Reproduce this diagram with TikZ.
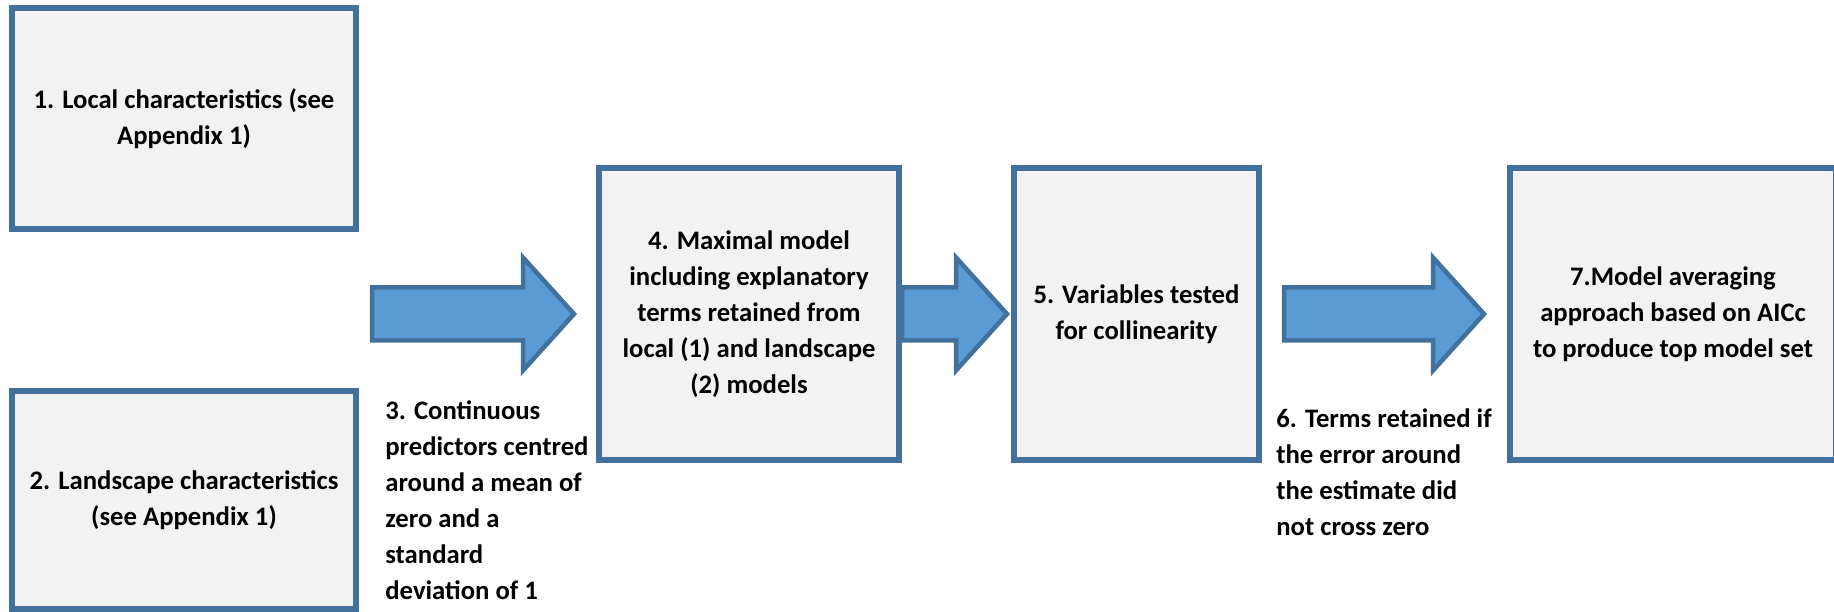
\documentclass[tikz,border=0pt]{standalone}
\usepackage{fontspec}
\setmainfont{Carlito}
\usepackage{tikz}
\usetikzlibrary{positioning,calc}
\definecolor{Edge}{HTML}{41719C}
\definecolor{Panel}{HTML}{F2F2F2}
\definecolor{Flow}{HTML}{5B9BD5}
\newcommand{\flowarrow}[2]{%
  \draw[flow] let \p1=(#1), \p2=(#2) in
    (\x1,\y1+0.53cm) -- (\x2-1.02cm,\y1+0.53cm) -- (\x2-1.02cm,\y1+1.13cm) -- (\x2,\y1)
    -- (\x2-1.02cm,\y1-1.13cm) -- (\x2-1.02cm,\y1-0.53cm) -- (\x1,\y1-0.53cm) -- cycle;}

\begin{document}
\begin{tikzpicture}[every node/.style={font=\fontsize{15.2}{20.5}\selectfont\bfseries,align=center},
  stepbox/.style={draw=Edge,fill=Panel,line width=0.12cm,inner sep=4pt},
  flow/.style={draw=Edge,fill=Flow,line width=0.09cm,line join=miter},
  note/.style={align=left,inner sep=0pt,anchor=base west}]
  \useasboundingbox (0,0) rectangle (36.68,12.24);
  \node[stepbox,minimum width=6.88cm,minimum height=4.42cm] (local) at (3.68,9.87) {1. Local characteristics (see\\Appendix 1)};
  \node[stepbox,minimum width=6.88cm,minimum height=4.36cm] (landscape) at (3.68,2.24) {2. Landscape characteristics\\(see Appendix 1)};
  \node[stepbox,minimum width=6.00cm,minimum height=5.84cm] (maximal) at (14.98,5.96) {4. Maximal model\\including explanatory\\terms retained from\\local (1) and landscape\\(2) models};
  \node[stepbox,minimum width=4.90cm,minimum height=5.84cm] (collin) at (22.73,5.96) {5. Variables tested\\for collinearity};
  \node[stepbox,minimum width=6.52cm,minimum height=5.84cm] (avg) at (33.46,5.96) {7.Model averaging\\approach based on AICc\\to produce top model set};
  % base anchor sits on the last line
  \node[note] (centring) at (7.70,0.24) {3. Continuous\\predictors centred\\around a mean of\\zero and a\\standard\\deviation of 1};
  \node[note] (retain) at (25.52,1.52) {6. Terms retained if\\the error around\\the estimate did\\not cross zero};
  \coordinate (s1) at ($(local.east |- maximal.west)+(0.26,0)$);
  \coordinate (t1) at ($(maximal.west)+(-0.44,0)$);
  \coordinate (t2) at ($(collin.west)+(-0.08,0)$);
  \coordinate (s3) at ($(collin.east)+(0.44,0)$);
  \coordinate (t3) at ($(avg.west)+(-0.46,0)$);
  \flowarrow{s1}{t1}
  \flowarrow{maximal.east}{t2}
  \flowarrow{s3}{t3}
\end{tikzpicture}
\end{document}
